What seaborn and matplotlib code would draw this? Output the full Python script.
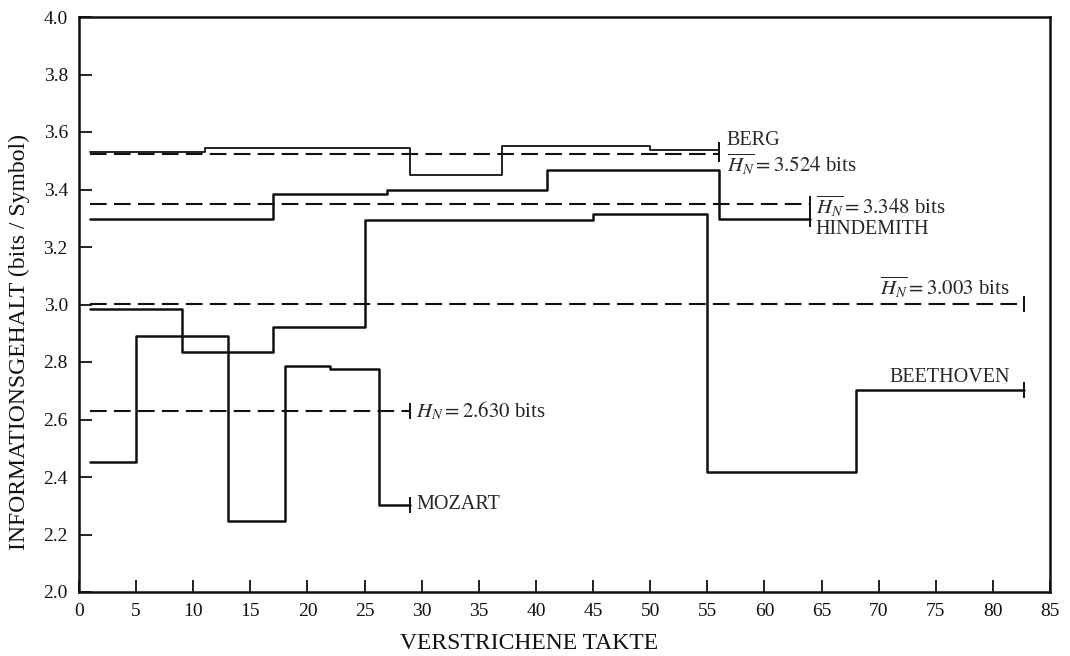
import pandas as pd
import matplotlib.pyplot as plt
import seaborn as sns

# Taktgrenzen (Beginn jedes Abschnitts, letzter Wert = Ende) und Informationsgehalt je Abschnitt
berg_takte = [1, 11, 29, 37, 50, 56]
berg_h = [3.531, 3.545, 3.452, 3.551, 3.536]
hindemith_takte = [1, 17, 27, 41, 56, 64]
hindemith_h = [3.298, 3.386, 3.400, 3.467, 3.296]
beethoven_takte = [1, 9, 17, 25, 45, 55, 68, 82.7]
beethoven_h = [2.986, 2.834, 2.923, 3.293, 3.315, 2.418, 2.702]
mozart_takte = [1, 5, 13, 18, 22, 26.3, 29]
mozart_h = [2.453, 2.890, 2.248, 2.785, 2.776, 2.302]

# Mittelwerte H_N
berg_mittel = 3.524
hindemith_mittel = 3.348
beethoven_mittel = 3.003
mozart_mittel = 2.630

x_ticks = list(range(0, 90, 5))
y_ticks = [2.0, 2.2, 2.4, 2.6, 2.8, 3.0, 3.2, 3.4, 3.6, 3.8, 4.0]

sns.set_style('ticks')
plt.rcParams['font.family'] = ['Liberation Serif', 'DejaVu Serif']
plt.rcParams['mathtext.fontset'] = 'stix'

fig, ax = plt.subplots(figsize=(10.7, 6.56), dpi=100)
fig.subplots_adjust(left=79/1070, right=1050/1070, bottom=1-592/656, top=1-17/656)


def stufen(takte, werte, lw):
    df = pd.DataFrame({'Takt': takte, 'H': werte + [werte[-1]]})
    sns.lineplot(data=df, x='Takt', y='H', drawstyle='steps-post', color='#111111',
                 lw=lw, estimator=None, ax=ax)
    ax.plot(takte[-1], werte[-1], marker='|', color='#111111', ms=12, mew=1.4)


def mittel(start, ende, wert):
    df = pd.DataFrame({'Takt': [start, ende], 'H': [wert, wert]})
    sns.lineplot(data=df, x='Takt', y='H', color='#111111', lw=1.5,
                 linestyle=(0, (8, 3.5)), estimator=None, ax=ax)
    ax.plot(ende, wert, marker='|', color='#111111', ms=12, mew=1.4)


stufen(berg_takte, berg_h, 1.3)
stufen(hindemith_takte, hindemith_h, 1.8)
stufen(beethoven_takte, beethoven_h, 1.8)
stufen(mozart_takte, mozart_h, 1.8)

mittel(berg_takte[0], berg_takte[-1], berg_mittel)
mittel(hindemith_takte[0], hindemith_takte[-1], hindemith_mittel)
mittel(beethoven_takte[0], beethoven_takte[-1], beethoven_mittel)
mittel(mozart_takte[0], mozart_takte[-1], mozart_mittel)

fs = 14.5
ax.text(56.7, 3.57, 'BERG', fontsize=fs, va='center')
ax.text(56.7, 3.487, r'$\overline{H_N}=3.524$ bits', fontsize=fs + 0.5, va='center')
ax.text(64.5, 3.34, r'$\overline{H_N}=3.348$ bits', fontsize=fs + 0.5, va='center')
ax.text(64.5, 3.262, 'HINDEMITH', fontsize=fs, va='center')
ax.text(81.5, 3.06, r'$\overline{H_N}=3.003$ bits', fontsize=fs + 0.5, va='center', ha='right')
ax.text(81.5, 2.745, 'BEETHOVEN', fontsize=fs, va='center', ha='right')
ax.text(29.5, 2.628, r'$H_N=2.630$ bits', fontsize=fs + 0.5, va='center')
ax.text(29.5, 2.305, 'MOZART', fontsize=fs, va='center')

ax.set_xlim(0, 85)
ax.set_ylim(2.0, 4.0)
ax.set_xticks(x_ticks)
ax.set_xticklabels([str(t) for t in x_ticks])
ax.set_yticks(y_ticks)
ax.set_yticklabels([f'{t:.1f}' for t in y_ticks])
ax.tick_params(direction='in', length=9, width=1.3, labelsize=14, colors='#111111', pad=8)
for s in ax.spines.values():
    s.set_visible(True)
    s.set_linewidth(1.8)
    s.set_color('#111111')

ax.set_xlabel('VERSTRICHENE TAKTE', fontsize=17, color='#111111')
ax.set_ylabel('INFORMATIONSGEHALT (bits / Symbol)', fontsize=17, color='#111111')
ax.xaxis.set_label_coords(0.463, -0.072)
ax.yaxis.set_label_coords(-0.05, 0.435)

plt.savefig('out.png', dpi=100)
